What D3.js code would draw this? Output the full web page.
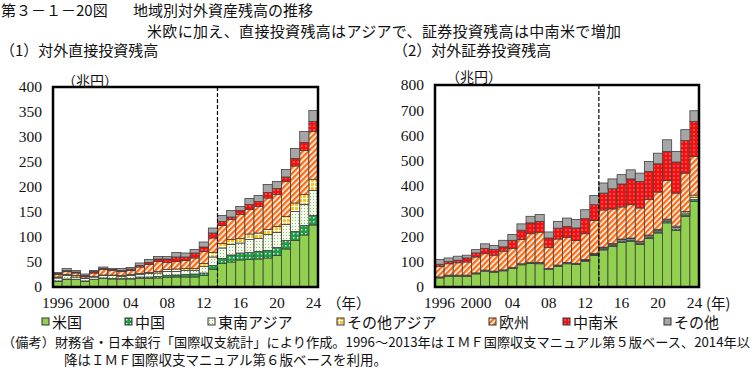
<!DOCTYPE html>
<html>
<head>
<meta charset="utf-8">
<script src="https://cdn.jsdelivr.net/npm/d3@7"></script>
<style>
  body { margin: 0; background: #fff; }
  svg { display: block; }
  .jp { font-family: "Noto Sans CJK JP", "Noto Sans", sans-serif; fill: #111; }
</style>
</head>
<body>
<div id="chart"></div>
<script>
// data (兆円)
var years = [1996, 1997, 1998, 1999, 2000, 2001, 2002, 2003, 2004, 2005, 2006, 2007, 2008, 2009, 2010,
  2011, 2012, 2013, 2014, 2015, 2016, 2017, 2018, 2019, 2020, 2021, 2022, 2023, 2024];
var seriesNames = ["米国", "中国", "東南アジア", "その他アジア", "欧州", "中南米", "その他"];

// (1) 対外直接投資残高
var fdiUS    = [11, 15, 15, 11, 15, 17, 16, 16, 16, 17, 17, 18, 19, 20, 20, 20, 23, 35, 47, 50, 54, 55, 56, 58, 63, 76, 93, 104, 124];
var fdiCN    = [1, 1, 0.5, 1, 0.5, 1, 1, 1, 1, 3, 3, 3, 4, 4, 5, 6, 5, 8, 10, 14, 14, 14, 15, 15, 16, 17, 18, 19, 19];
var fdiSEA   = [6, 7, 4.5, 5, 4.5, 5, 6, 4, 6, 5, 7, 7, 8, 7, 8, 7, 13, 17, 21, 21, 20, 26, 26, 32, 30, 32, 40, 42, 50];
var fdiOA    = [2, 2, 3, 1, 1, 1, 1, 2, 2, 2, 2, 3, 4, 5, 4, 4, 6, 9, 9, 10, 9, 11, 11, 10, 12, 16, 17, 20, 22];
var fdiEU    = [5, 6, 5, 3, 7, 11, 9, 8, 8, 13, 16, 20, 14, 15, 16, 21, 24, 29, 36, 40, 48, 49, 53, 63, 64, 70, 74, 88, 96];
var fdiLA    = [2, 2, 2, 2, 3, 2, 2, 2, 3, 3, 4, 5, 7, 9, 7, 10, 9, 10, 8, 5, 8, 10, 10, 11, 12, 9, 15, 16, 20];
var fdiOther = [2, 4, 3, 3, 2, 3, 2, 4, 3, 5, 6, 5, 5, 9, 8, 7, 10, 10, 12, 13, 8, 12, 12, 16, 14, 15, 20, 22, 22];

// (2) 対外証券投資残高
var secUS    = [36, 43, 43, 43, 52, 63, 59, 64, 73, 88, 93, 92, 69, 82, 92, 89, 102, 125, 147, 161, 177, 181, 168, 192, 214, 254, 224, 280, 339];
var secCN    = [1, 1, 1, 1, 1, 1, 1, 1, 1, 1, 2, 2, 2, 2, 2, 2, 2, 3, 4, 4, 5, 5, 5, 5, 5, 5, 6, 6, 7];
var secSEA   = [2, 2, 2, 2, 2, 2, 2, 2, 2, 2, 2, 2, 2, 2, 2, 2, 3, 3, 4, 4, 5, 5, 5, 5, 5, 6, 6, 7, 8];
var secOA    = [1, 1, 1, 1, 1, 1, 1, 1, 1, 1, 1, 1, 1, 1, 1, 1, 2, 2, 3, 3, 3, 3, 3, 4, 4, 4, 5, 6, 10];
var secEU    = [42, 45, 49, 52, 63, 65, 63, 74, 76, 96, 113, 120, 83, 103, 100, 90, 102, 130, 147, 137, 127, 132, 132, 140, 148, 153, 131, 152, 153];
var secLA    = [8, 9, 10, 16, 16, 21, 22, 17, 32, 37, 43, 43, 37, 43, 43, 50, 60, 63, 67, 80, 91, 102, 105, 112, 112, 115, 123, 129, 138];
var secOther = [19, 14, 16, 11, 13, 18, 16, 26, 23, 25, 26, 27, 24, 27, 33, 33, 35, 36, 40, 39, 37, 36, 33, 39, 42, 46, 42, 43, 43];

var tickYears = [1996, 2000, 2004, 2008, 2012, 2016, 2020, 2024];
var tickText = ["1996", "2000", "04", "08", "12", "16", "20", "24"];
var fdiTicks = [0, 50, 100, 150, 200, 250, 300, 350, 400];
var secTicks = [0, 100, 200, 300, 400, 500, 600, 700, 800];

var svgWidth = 753;
var svgHeight = 371;
var serif = '"Liberation Serif", "DejaVu Serif", serif';

var svg = d3.select("#chart").append("svg").attr("width", svgWidth).attr("height", svgHeight);

// fill patterns
var defs = svg.append("defs");

var pCN = defs.append("pattern").attr("id", "p-cn").attr("patternUnits", "userSpaceOnUse").attr("width", 4).attr("height", 4);
pCN.append("rect").attr("width", 4).attr("height", 4).attr("fill", "#1f9e45");
pCN.append("rect").attr("x", 1).attr("y", 1).attr("width", 1.4).attr("height", 1.4).attr("fill", "#fff");

var pSEA = defs.append("pattern").attr("id", "p-sea").attr("patternUnits", "userSpaceOnUse").attr("width", 3).attr("height", 3);
pSEA.append("rect").attr("width", 3).attr("height", 3).attr("fill", "#f3f8ea");
pSEA.append("rect").attr("x", 1).attr("y", 1).attr("width", 1).attr("height", 1).attr("fill", "#8fbf63");

var pOA = defs.append("pattern").attr("id", "p-oa").attr("patternUnits", "userSpaceOnUse").attr("width", 4).attr("height", 4);
pOA.append("rect").attr("width", 4).attr("height", 4).attr("fill", "#ffc21a");
pOA.append("rect").attr("x", 2).attr("width", 1).attr("height", 4).attr("fill", "#fff");
pOA.append("rect").attr("y", 2).attr("width", 4).attr("height", 1).attr("fill", "#fff");

var pEU = defs.append("pattern").attr("id", "p-eu").attr("patternUnits", "userSpaceOnUse").attr("width", 4).attr("height", 4)
  .attr("patternTransform", "rotate(45)");
pEU.append("rect").attr("width", 4).attr("height", 4).attr("fill", "#fff");
pEU.append("rect").attr("width", 2.4).attr("height", 4).attr("fill", "#ff6a10");

var pLA = defs.append("pattern").attr("id", "p-la").attr("patternUnits", "userSpaceOnUse").attr("width", 4).attr("height", 4);
pLA.append("rect").attr("width", 4).attr("height", 4).attr("fill", "#f51010");
pLA.append("rect").attr("x", 1.5).attr("y", 1.5).attr("width", 1).attr("height", 1).attr("fill", "#fff");

var fills = ["#92d050", "url(#p-cn)", "url(#p-sea)", "url(#p-oa)", "url(#p-eu)", "url(#p-la)", "#a6a6a6"];
var color = d3.scaleOrdinal().domain(seriesNames).range(fills);

// titles
svg.append("text").attr("class", "jp").attr("x", 1).attr("y", 16).style("font-size", "15px").text("第３－１－20図");
svg.append("text").attr("class", "jp").attr("x", 133).attr("y", 16).style("font-size", "15px").text("地域別対外資産残高の推移");
svg.append("text").attr("class", "jp").attr("x", 147).attr("y", 37).style("font-size", "15px")
  .attr("textLength", 474).attr("lengthAdjust", "spacing")
  .text("米欧に加え、直接投資残高はアジアで、証券投資残高は中南米で増加");
svg.append("text").attr("class", "jp").attr("x", 0).attr("y", 56).style("font-size", "15px").text("（1）対外直接投資残高");
svg.append("text").attr("class", "jp").attr("x", 393).attr("y", 56).style("font-size", "15px").text("（2）対外証券投資残高");

function drawPanel(opts) {
  var rows = years.map(function(y, i) {
    var r = { year: y };
    seriesNames.forEach(function(k, j) { r[k] = opts.values[j][i]; });
    return r;
  });
  var stacked = d3.stack().keys(seriesNames)(rows);

  var xScale = d3.scaleBand().domain(years).range([opts.left, opts.right]).padding(0);
  var yScale = d3.scaleLinear().domain([0, opts.max]).range([opts.bottom, opts.top]);

  var g = svg.append("g");

  g.selectAll("g.layer").data(stacked).enter()
    .append("g")
    .attr("class", "layer")
    .attr("fill", d => color(d.key))
    .selectAll("rect").data(d => d).enter()
    .append("rect")
    .attr("x", d => xScale(d.data.year))
    .attr("width", xScale.bandwidth())
    .attr("y", d => yScale(d[1]))
    .attr("height", d => yScale(d[0]) - yScale(d[1]))
    .attr("stroke", "#404040")
    .attr("stroke-width", 0.8);

  // break between BPM5 and BPM6
  var xBreak = xScale(2014);
  g.append("line")
    .attr("x1", xBreak).attr("x2", xBreak)
    .attr("y1", opts.top).attr("y2", opts.bottom)
    .attr("stroke", "#000").attr("stroke-width", 1.2)
    .attr("stroke-dasharray", "4,2");

  g.append("rect")
    .attr("x", opts.left).attr("y", opts.top)
    .attr("width", opts.right - opts.left).attr("height", opts.bottom - opts.top)
    .attr("fill", "none").attr("stroke", "#000").attr("stroke-width", 2.5);

  var leftAxis = d3.axisLeft(yScale).tickValues(opts.ticks).tickSize(0).tickPadding(11);
  var yAxisG = g.append("g").attr("transform", `translate(${opts.left}, 0)`).call(leftAxis);
  yAxisG.select(".domain").remove();
  yAxisG.attr("font-family", null).attr("font-size", null);
  yAxisG.selectAll("text").attr("fill", "#111")
    .style("font-family", serif).style("font-size", "15.5px");

  var bottomAxis = d3.axisBottom(xScale).tickValues(tickYears).tickSize(0).tickPadding(10)
    .tickFormat(d => tickText[tickYears.indexOf(d)]);
  var xAxisG = g.append("g").attr("transform", `translate(0, ${opts.bottom})`).call(bottomAxis);
  xAxisG.select(".domain").remove();
  xAxisG.attr("font-family", null).attr("font-size", null);
  xAxisG.selectAll("text").attr("fill", "#111")
    .style("font-family", serif).style("font-size", "15.5px");

  g.append("text").attr("class", "jp").attr("x", opts.unitX).attr("y", opts.unitY)
    .style("font-size", "14px").text("（兆円）");
  g.append("text").attr("class", "jp").attr("x", opts.yearX).attr("y", opts.bottom + 22)
    .style("font-size", "14.5px").text(opts.yearLabel);
}

drawPanel({
  values: [fdiUS, fdiCN, fdiSEA, fdiOA, fdiEU, fdiLA, fdiOther],
  left: 53, right: 318, top: 87, bottom: 287, max: 400, ticks: fdiTicks,
  unitX: 62, unitY: 86, yearX: 327, yearLabel: "（年）"
});

drawPanel({
  values: [secUS, secCN, secSEA, secOA, secEU, secLA, secOther],
  left: 435, right: 699, top: 85, bottom: 287, max: 800, ticks: secTicks,
  unitX: 446, unitY: 82, yearX: 706, yearLabel: "(年)"
});

// legend
var legendX = [42, 125, 208, 337, 489, 563, 664];
var legend = svg.append("g").attr("transform", "translate(0, 322)");
var items = legend.selectAll("g").data(seriesNames).enter()
  .append("g")
  .attr("transform", (d, i) => `translate(${legendX[i]}, 0)`);
items.append("rect")
  .attr("x", 0).attr("y", -4).attr("width", 7).attr("height", 7)
  .attr("fill", d => color(d)).attr("stroke", "#333").attr("stroke-width", 1);
items.append("text").attr("class", "jp").attr("x", 10).attr("y", 5.5)
  .style("font-size", "15px").text(d => d);

// notes
svg.append("text").attr("class", "jp").attr("x", 2).attr("y", 347)
  .style("font-size", "13px")
  .attr("textLength", 748).attr("lengthAdjust", "spacingAndGlyphs")
  .text("（備考）財務省・日本銀行「国際収支統計」により作成。1996～2013年はＩＭＦ国際収支マニュアル第５版ベース、2014年以");
svg.append("text").attr("class", "jp").attr("x", 64).attr("y", 365)
  .style("font-size", "13.5px")
  .text("降はＩＭＦ国際収支マニュアル第６版ベースを利用。");
</script>
</body>
</html>
